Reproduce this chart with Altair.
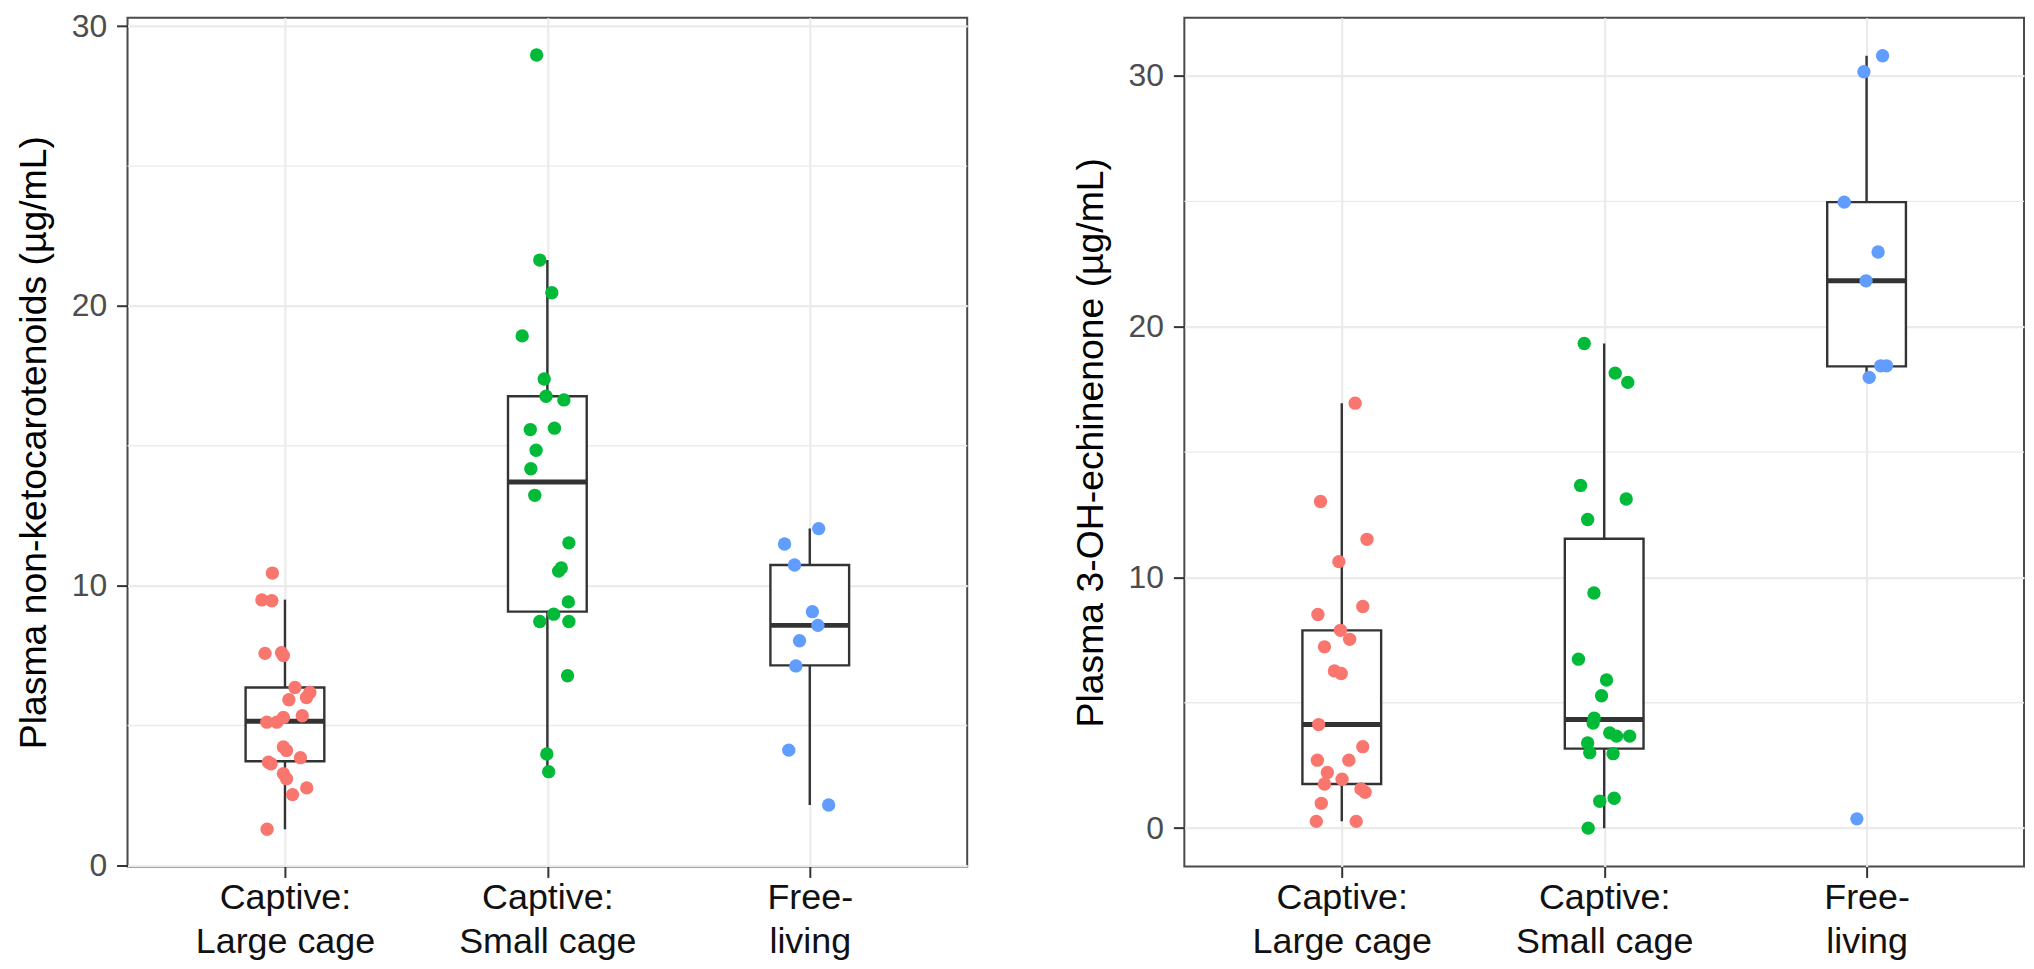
import json
import altair as alt
import pandas as pd

# ---------------- data ----------------
groups = ["Captive: Large cage", "Captive: Small cage", "Free-living"]
group_lines = [["Captive:", "Large cage"], ["Captive:", "Small cage"], ["Free-", "living"]]
colors = ["#F8766D", "#00BA38", "#619CFF"]

# Left panel: plasma non-ketocarotenoids (µg/mL)
nk_large = [10.45, 9.49, 9.46, 7.58, 7.60, 7.50, 6.36, 6.18, 6.00, 5.92, 5.35, 5.12,
            5.12, 5.29, 4.23, 4.11, 3.69, 3.63, 3.85, 3.28, 3.10, 2.53, 2.77, 1.29]
nk_large_jit = [-0.048, -0.088, -0.05, -0.076, -0.013, -0.006, 0.038, 0.095, 0.082, 0.015,
                0.066, -0.069, -0.031, -0.006, -0.006, 0.006, -0.063, -0.053, 0.059,
                -0.006, 0.006, 0.029, 0.083, -0.068]
nk_small = [28.97, 21.64, 20.47, 18.93, 17.39, 16.77, 16.64, 15.58, 15.63, 14.84, 14.18,
            13.23, 11.53, 10.63, 10.52, 9.42, 8.98, 8.72, 8.72, 6.78, 3.98, 3.35]
nk_small_jit = [-0.041, -0.029, 0.017, -0.096, -0.012, -0.005, 0.063, -0.065, 0.027,
                -0.043, -0.063, -0.048, 0.082, 0.053, 0.043, 0.080, 0.024, -0.029, 0.082,
                0.077, -0.002, 0.005]
nk_free = [12.04, 11.49, 10.74, 9.07, 8.58, 8.03, 7.13, 4.12, 2.16]
nk_free_jit = [0.034, -0.096, -0.058, 0.010, 0.031, -0.039, -0.053, -0.080, 0.072]

nk_lo = [1.29, 3.35, 2.16]
nk_q1 = [3.72, 9.07, 7.15]
nk_med = [5.15, 13.71, 8.58]
nk_q3 = [6.36, 16.77, 10.74]
nk_hi = [9.50, 21.64, 12.04]

# Right panel: plasma 3-OH-echinenone (µg/mL)
oh_large = [16.95, 13.03, 11.52, 10.63, 8.52, 8.84, 7.89, 7.53, 7.23, 6.27, 6.17, 4.13,
            3.25, 2.71, 2.71, 2.22, 1.76, 1.95, 1.56, 1.43, 0.99, 0.27, 0.27]
oh_large_jit = [0.051, -0.081, 0.096, -0.011, -0.091, 0.080, -0.005, 0.030, -0.066,
                -0.028, -0.002, -0.088, 0.080, -0.093, 0.027, -0.055, -0.066, 0.001,
                0.073, 0.089, -0.078, -0.097, 0.055]
oh_small = [19.33, 18.15, 17.78, 13.67, 13.13, 12.31, 9.38, 6.74, 5.91, 5.28, 4.39, 4.19,
            3.80, 3.67, 3.67, 3.40, 3.01, 2.97, 1.07, 1.19, 0.00]
oh_small_jit = [-0.076, 0.042, 0.090, -0.090, 0.084, -0.063, -0.039, -0.098, 0.009,
                -0.010, -0.038, -0.042, 0.021, 0.047, 0.097, -0.063, -0.055, 0.034,
                -0.017, 0.038, -0.061]
oh_free = [30.81, 30.17, 24.97, 22.98, 21.83, 18.44, 18.44, 17.98, 0.37]
oh_free_jit = [0.061, -0.010, -0.085, 0.044, -0.002, 0.054, 0.076, 0.010, -0.037]

oh_lo = [0.27, 0.00, 17.98]
oh_q1 = [1.76, 3.17, 18.42]
oh_med = [4.13, 4.33, 21.83]
oh_q3 = [7.89, 11.54, 24.97]
oh_hi = [16.95, 19.33, 30.81]

y_major = [0, 10, 20, 30]
y_minor = [5, 15, 25]

left_title = "Plasma non-ketocarotenoids (µg/mL)"
right_title = "Plasma 3-OH-echinenone (µg/mL)"

# ---------------- styling ----------------
W, H = 843, 852
BOX_HALF = 0.15
FONT = "Liberation Sans"
DARK = "#333333"
GRID = "#EBEBEB"


def points_df(vals, jits):
    rows = []
    for i, (v, j) in enumerate(zip(vals, jits)):
        for val, jit in zip(v, j):
            rows.append({"g": groups[i], "idx": i + 1, "v": val, "xpos": i + 1 + jit})
    return pd.DataFrame(rows)


def box_df(lo, q1, med, q3, hi):
    return pd.DataFrame({"g": groups, "idx": [1, 2, 3], "lo": lo, "q1": q1,
                         "med": med, "q3": q3, "hi": hi})


label_expr = (f"datum.value == 1 ? {json.dumps(group_lines[0])} : "
              f"datum.value == 2 ? {json.dumps(group_lines[1])} : {json.dumps(group_lines[2])}")

x_scale = alt.Scale(domain=[0.4, 3.6], nice=False, zero=False)
x_axis = alt.Axis(values=[1, 2, 3], labelExpr=label_expr, title=None, grid=True,
                  gridColor=GRID, gridWidth=2.2, domain=False, ticks=True, tickSize=11,
                  tickWidth=2, tickColor=DARK, labelFontSize=36, labelColor="#111111",
                  labelLineHeight=44, labelPadding=3, labelFlush=False, labelOverlap=False,
                  labelLimit=0, labelFont=FONT)


def y_axis(title):
    return alt.Axis(values=y_major, title=title, grid=True, gridColor=GRID, gridWidth=2.2,
                    domain=False, ticks=True, tickSize=11, tickWidth=2, tickColor=DARK,
                    labelFontSize=32, labelColor="#4D4D4D", labelPadding=10,
                    labelOverlap=False, labelLimit=0, labelFont=FONT, titleFont=FONT,
                    titleFontSize=37.5, titleColor="#000000", titleFontWeight="normal",
                    titleLimit=0, titleX=-82.5, titleBaseline="alphabetic")


def panel(pts, box, domain, title):
    ys = alt.Scale(domain=domain, nice=False, zero=False)
    ya = y_axis(title)

    def X(f):
        return alt.X(f, type="quantitative", scale=x_scale, axis=x_axis)

    def Y(f):
        return alt.Y(f, type="quantitative", scale=ys, axis=ya)

    minor = alt.Chart(pd.DataFrame({"m": y_minor})).mark_rule(
        color=GRID, strokeWidth=1.4).encode(y=Y("m"))
    base = alt.Chart(box).transform_calculate(
        xl=f"datum.idx - {BOX_HALF}", xr=f"datum.idx + {BOX_HALF}")
    whisk = base.mark_rule(color=DARK, strokeWidth=2.4).encode(
        x=X("idx"), y=Y("lo"), y2="hi")
    boxes = base.mark_bar(fill="white", stroke=DARK, strokeWidth=2.4).encode(
        x=X("xl"), x2="xr", y=Y("q1"), y2="q3")
    med = base.mark_rule(color=DARK, strokeWidth=5).encode(
        x=X("xl"), x2="xr", y=Y("med"))
    dots = alt.Chart(pts).mark_circle(size=180, opacity=1).encode(
        x=X("xpos"), y=Y("v"),
        color=alt.Color("g:N", scale=alt.Scale(domain=groups, range=colors), legend=None))
    return alt.layer(minor, whisk, boxes, med, dots).properties(width=W, height=H)


left = panel(points_df([nk_large, nk_small, nk_free], [nk_large_jit, nk_small_jit, nk_free_jit]),
             box_df(nk_lo, nk_q1, nk_med, nk_q3, nk_hi), [-0.04, 30.3], left_title)
right = panel(points_df([oh_large, oh_small, oh_free], [oh_large_jit, oh_small_jit, oh_free_jit]),
              box_df(oh_lo, oh_q1, oh_med, oh_q3, oh_hi), [-1.53, 32.32], right_title)

chart = alt.hconcat(left, right, spacing=218, bounds="flush").properties(
    padding={"left": 6, "top": -1, "right": 0, "bottom": 0}
).configure(
    font=FONT, background="white",
    view=alt.ViewConfig(stroke="#4a4a4a", strokeWidth=2),
)

chart.save("out.html", embed_options={"renderer": "svg", "actions": False})
